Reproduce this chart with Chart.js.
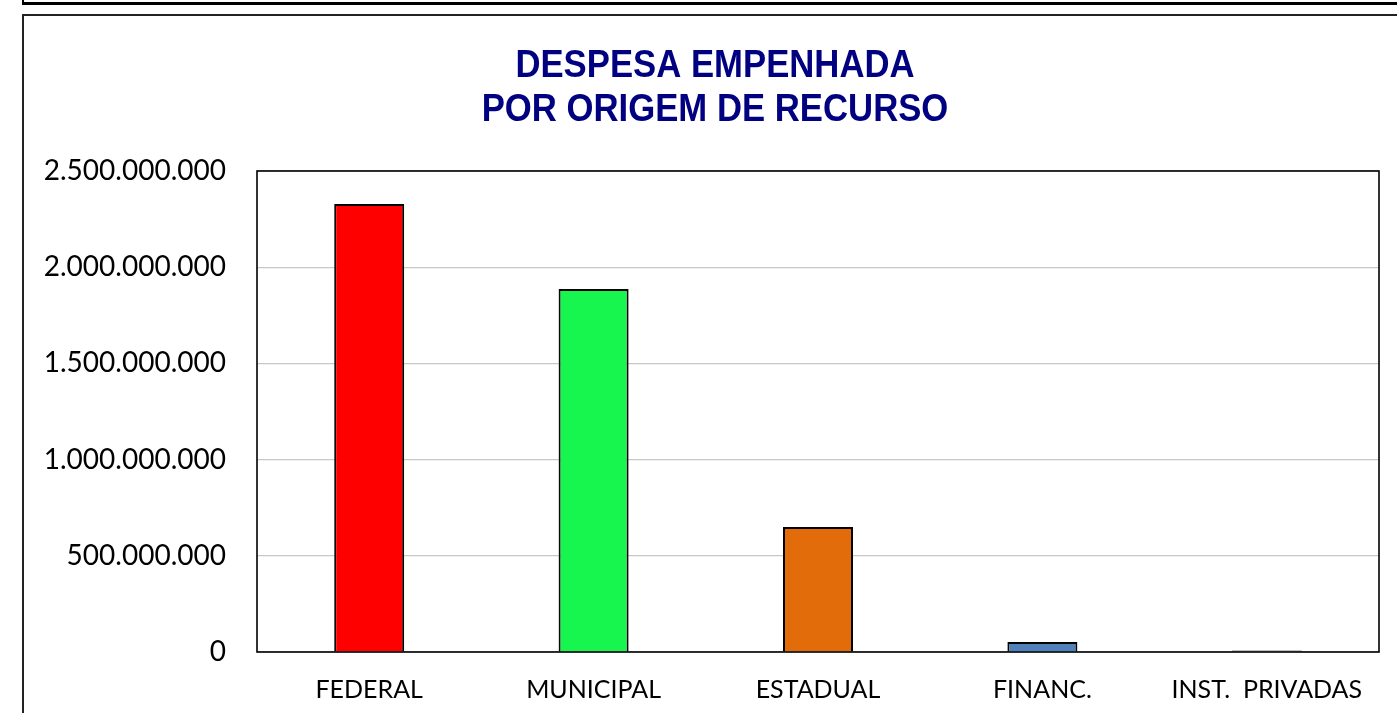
<!DOCTYPE html>
<html>
<head>
<meta charset="utf-8">
<script src="https://cdn.jsdelivr.net/npm/chart.js@4.4.0/dist/chart.umd.min.js"></script>
<style>
  html, body { margin: 0; padding: 0; background: #fff; }
  #wrap { position: relative; width: 1397px; height: 713px; overflow: hidden; }
  .frame1 { position: absolute; left: 22px; top: -10px; width: 2000px; height: 12px; border-left: 2px solid #000; border-bottom: 3px solid #000; }
  .frame2 { position: absolute; left: 22px; top: 14px; width: 2000px; height: 800px; border-left: 2px solid #222; border-top: 2px solid #222; }
  canvas { position: absolute; left: 0; top: 0; }
</style>
</head>
<body>
<div id="wrap">
  <div class="frame1"></div>
  <div class="frame2"></div>
  <canvas id="myChart" width="1397" height="713"></canvas>
</div>
<script>
    var categories = ['FEDERAL', 'MUNICIPAL', 'ESTADUAL', 'FINANC.', 'INST.  PRIVADAS']
    var despesa = [2328000000, 1887000000, 650000000, 52000000, 8000000]
    var barColors = ['#ff0000', '#17f54f', '#e36c0a', '#4f81bd', '#4f81bd']
    var titleLines = ['DESPESA EMPENHADA', 'POR ORIGEM DE RECURSO']
    var yMax = 2500000000
    var yStep = 500000000

    function formatBR(v) {
        return String(v).replace(/\B(?=(\d{3})+(?!\d))/g, '.')
    }

    // black frame round the plot area
    var plotBorder = {
        id: 'plotBorder',
        afterDraw: function(chart) {
            var a = chart.chartArea
            var ctx = chart.ctx
            ctx.save()
            ctx.strokeStyle = '#000'
            ctx.lineWidth = 1.6
            ctx.strokeRect(a.left, a.top, a.right - a.left, a.bottom - a.top)
            ctx.restore()
        }
    }

    // narrow bold title (no Arial Narrow here, so squeeze Liberation Sans)
    var narrowTitle = {
        id: 'narrowTitle',
        afterDraw: function(chart) {
            var ctx = chart.ctx
            ctx.save()
            ctx.fillStyle = '#000080'
            ctx.font = "bold 39px 'Liberation Sans', Arial, sans-serif"
            ctx.textAlign = 'center'
            ctx.textBaseline = 'alphabetic'
            ctx.translate(715, 0)
            ctx.scale(0.89, 1)
            ctx.fillText(titleLines[0], 0, 77)
            ctx.fillText(titleLines[1], 0, 121)
            ctx.restore()
        }
    }

    var ctx = document.getElementById('myChart').getContext('2d');
    var myChart = new Chart(ctx, {
        type: 'bar',
        data: {
            labels: categories,
            datasets: [{
                data: despesa,
                backgroundColor: barColors,
                borderColor: '#000',
                borderWidth: 2,
                barPercentage: 0.312,
                categoryPercentage: 1
            }]
        },
        plugins: [plotBorder, narrowTitle],
        options: {
            responsive: false,
            animation: false,
            layout: {
                padding: { left: 0, right: 18, top: 171, bottom: 0 }
            },
            plugins: {
                legend: { display: false },
                tooltip: { enabled: false },
                title: { display: false }
            },
            scales: {
                x: {
                    grid: { display: false, drawTicks: false },
                    border: { display: false },
                    ticks: {
                        color: '#000',
                        padding: 23,
                        maxRotation: 0,
                        autoSkip: false,
                        font: { family: 'Lato, sans-serif', size: 25 }
                    },
                    afterFit: function(scale) { scale.height = 61 }
                },
                y: {
                    min: 0,
                    max: yMax,
                    grid: { color: '#c8c8c8', lineWidth: 1.2, drawTicks: false },
                    border: { display: false },
                    ticks: {
                        stepSize: yStep,
                        color: '#000',
                        padding: 31,
                        font: { family: 'Lato, sans-serif', size: 28 },
                        callback: function(value) { return formatBR(value) }
                    },
                    afterFit: function(scale) { scale.width = 257 }
                }
            }
        }
    });
</script>
</body>
</html>
